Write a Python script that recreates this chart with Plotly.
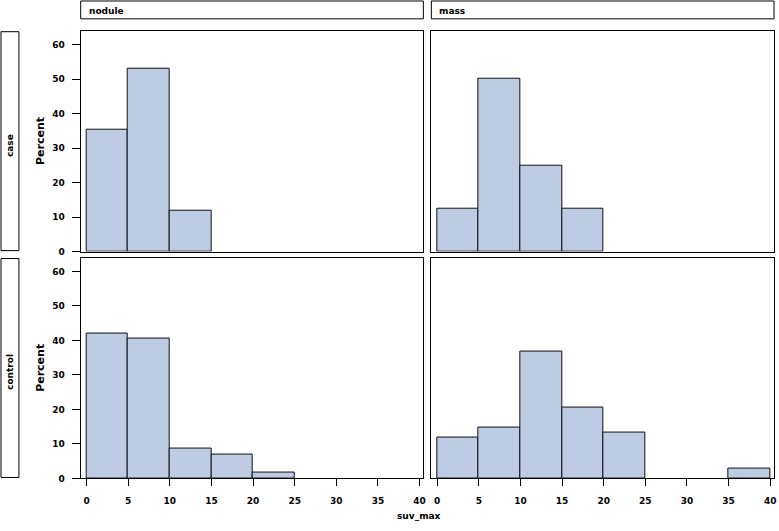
import plotly.graph_objects as go

W, H = 779, 531

# ---- data ----
bin_left = [0, 5, 10, 15, 20, 25, 30, 35]
bin_width = 5
col_labels = ["nodule", "mass"]
row_labels = ["case", "control"]
case_nodule = [35.3, 52.9, 11.8, 0, 0, 0, 0, 0]
case_mass = [12.5, 50.0, 25.0, 12.5, 0, 0, 0, 0]
control_nodule = [42.1, 40.4, 8.8, 7.0, 1.8, 0, 0, 0]
control_mass = [11.8, 14.7, 36.8, 20.6, 13.2, 0, 0, 2.9]
x_ticks = [0, 5, 10, 15, 20, 25, 30, 35, 40]
y_ticks = [0, 10, 20, 30, 40, 50, 60]

panels = [
    [case_nodule, case_mass],
    [control_nodule, control_mass],
]

FILL = "#BDCBE3"
FONT = dict(family="DejaVu Sans", size=9, color="black", weight="bold")
TITLE_FONT = dict(family="DejaVu Sans", size=11, color="black", weight="bold")

def px_x(p):
    return p / W

def px_y(p):
    return 1 - p / H

col_dom = [(81, 425), (433, 777)]
row_dom = [(31, 254), (260, 483)]

fig = go.Figure()
layout = dict(
    autosize=True,
    margin=dict(l=0, r=0, t=0, b=0),
    paper_bgcolor="white", plot_bgcolor="white",
    showlegend=False,
    bargap=0,
)

idx = 0
for r in range(2):
    for c in range(2):
        idx += 1
        xa = "xaxis" if idx == 1 else f"xaxis{idx}"
        ya = "yaxis" if idx == 1 else f"yaxis{idx}"
        xr = "x" if idx == 1 else f"x{idx}"
        yr = "y" if idx == 1 else f"y{idx}"
        vals = panels[r][c]
        xs = [b + bin_width / 2 for b, v in zip(bin_left, vals) if v > 0]
        ys = [v for v in vals if v > 0]
        fig.add_trace(go.Bar(
            x=xs, y=ys, width=bin_width, xaxis=xr, yaxis=yr,
            marker=dict(color=FILL, line=dict(color="#111111", width=1)),
            hoverinfo="skip",
        ))
        bottom = (r == 1)
        left = (c == 0)
        layout[xa] = dict(
            domain=[px_x(col_dom[c][0]), px_x(col_dom[c][1])],
            anchor=yr, range=[-0.7, 40.45],
            showline=True, linecolor="black", linewidth=1, mirror=True,
            showgrid=False, zeroline=False,
            tickvals=x_ticks if bottom else [],
            ticks="outside" if bottom else "", ticklen=7, tickcolor="black",
            showticklabels=bottom, tickfont=FONT, ticklabelstandoff=7,
        )
        layout[ya] = dict(
            domain=[px_y(row_dom[r][1]), px_y(row_dom[r][0])],
            anchor=xr, range=[0, 64],
            showline=True, linecolor="black", linewidth=1, mirror=True,
            showgrid=False, zeroline=False,
            tickvals=y_ticks if left else [],
            ticks="outside" if left else "", ticklen=8, tickcolor="black",
            showticklabels=left, tickfont=FONT, ticklabelstandoff=5,
        )

fig.update_layout(**layout)

shapes = []
annotations = []
# column header boxes
for c, lab in enumerate(col_labels):
    x0, x1 = col_dom[c]
    shapes.append(dict(type="rect", xref="paper", yref="paper",
                       x0=px_x(x0), x1=px_x(x1), y0=px_y(19), y1=px_y(1),
                       line=dict(color="black", width=1)))
    annotations.append(dict(text=lab, xref="paper", yref="paper",
                            x=px_x(x0 + 6), y=px_y(11), xanchor="left", yanchor="middle",
                            showarrow=False, font=FONT))
# row header boxes
for r, lab in enumerate(row_labels):
    y0, y1 = row_dom[r]
    shapes.append(dict(type="rect", xref="paper", yref="paper",
                       x0=px_x(1), x1=px_x(19), y0=px_y(y1 - 1), y1=px_y(y0 + 1),
                       line=dict(color="black", width=1)))
    annotations.append(dict(text=lab, xref="paper", yref="paper",
                            x=px_x(10), y=px_y((y0 + y1) / 2 + 4), xanchor="center", yanchor="middle",
                            textangle=-90, showarrow=False, font=FONT))
    annotations.append(dict(text="Percent", xref="paper", yref="paper",
                            x=px_x(40), y=px_y((y0 + y1) / 2), xanchor="center", yanchor="middle",
                            textangle=-90, showarrow=False, font=TITLE_FONT))
annotations.append(dict(text="suv_max", xref="paper", yref="paper",
                        x=px_x(421), y=px_y(521), xanchor="center", yanchor="middle",
                        showarrow=False, font=FONT))

fig.update_layout(shapes=shapes, annotations=annotations)

post = (
    "document.documentElement.style.height='100%';"
    "document.documentElement.style.overflow='hidden';"
    "document.body.style.margin='0';"
    "document.body.style.height='100%';"
    "document.body.style.overflow='hidden';"
    "var gd=document.getElementById('{plot_id}');"
    "gd.style.width='100vw';gd.style.height='100vh';"
    "if(gd.parentNode){gd.parentNode.style.width='100vw';gd.parentNode.style.height='100vh';}"
    "Plotly.Plots.resize(gd);"
)
fig.write_html(
    "out.html",
    config={"displayModeBar": False, "responsive": True},
    default_width="100%", default_height="100%",
    post_script=post,
)
